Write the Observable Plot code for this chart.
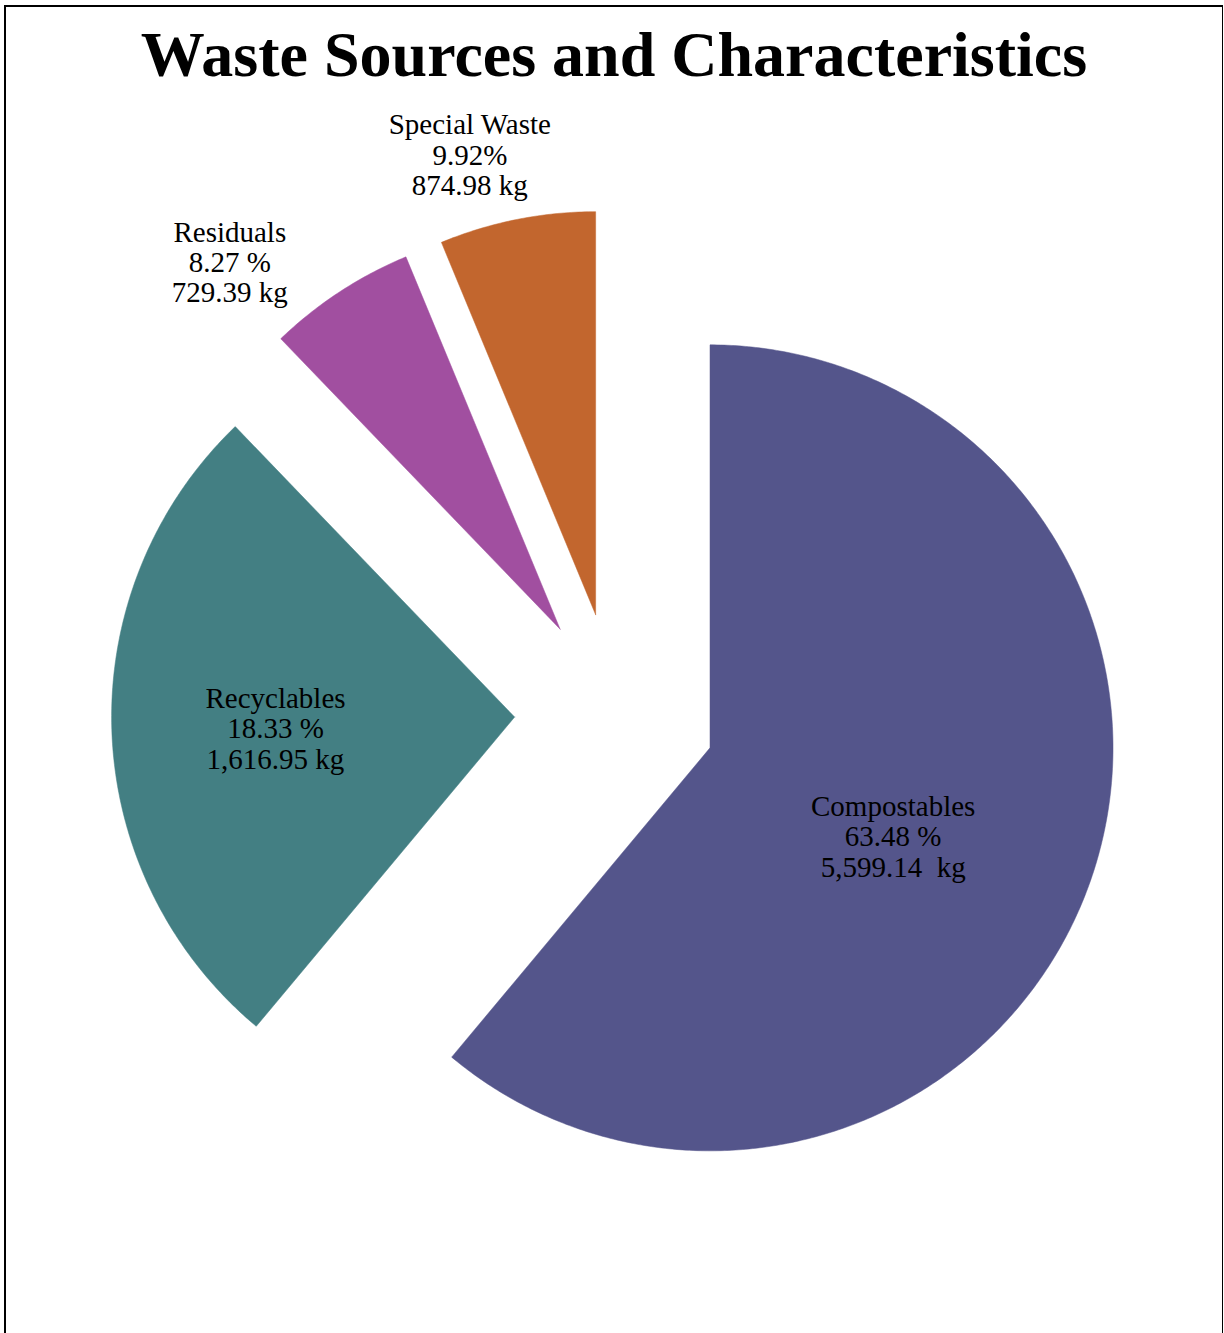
<!DOCTYPE html>
<html>
<head>
<meta charset="utf-8">
<script src="https://cdn.jsdelivr.net/npm/d3@7"></script>
<script src="https://cdn.jsdelivr.net/npm/@observablehq/plot@0.6"></script>
<style>
  html, body { margin: 0; padding: 0; background: #fff; overflow: hidden; }
  #frame {
    position: absolute; left: 4px; top: 5px; width: 1216px; height: 1400px;
    border-left: 2px solid #000; border-top: 2px solid #000; border-right: 1.5px solid #000;
    box-sizing: content-box;
  }
  #title {
    box-sizing: border-box; height: 93px; padding-top: 17px; margin: 0;
    font-family: "Liberation Serif", serif; font-weight: bold; font-size: 64px; line-height: 62px;
    text-align: center; color: #000;
  }
  #chart svg { display: block; }
  #chart svg text { white-space: pre; }
</style>
</head>
<body>
<div id="frame">
  <div id="title">Waste Sources and Characteristics</div>
  <div id="chart"></div>
</div>
<script>
// ---- data ----
const categories = ["Compostables", "Recyclables", "Residuals", "Special Waste"];
// share of the circle each slice occupies
const sliceShares = [61.07, 26.73, 5.94, 6.25];
const percentLabels = ["63.48 %", "18.33 %", "8.27 %", "9.92%"];
const massLabels = ["5,599.14  kg", "1,616.95 kg", "729.39 kg", "874.98 kg"];

// ---- styles / layout ----
const palette = ["#54558B", "#437F83", "#A14FA0", "#C2662E"];
const W = 1216, H = 1233;
const centerPx = [608.8, 613];     // pie centre inside the svg
const radiusPx = 403;               // pie radius
const pull = 0.25;                  // explode distance (fraction of radius)
const labelRadius = [0.505, 0.594, 1.225, 1.183];       // label distance from slice tip (fraction of radius)
const labelAngleShift = [5.9, -0.7, -8.8, -4.05];       // degrees from slice mid-angle

const table = categories.map((c, i) => ({category: c, share: sliceShares[i], pct: percentLabels[i], mass: massLabels[i], i}));
const arcs = d3.pie().sort(null).value(d => d.share).startAngle(0).endAngle(2 * Math.PI)(table);

// unit-radius polar -> cartesian (angle clockwise from 12 o'clock, y downward)
const pt = (a, r) => [r * Math.sin(a), -r * Math.cos(a)];

const wedgePts = [];
const labels = [];
for (const a of arcs) {
  const mid = (a.startAngle + a.endAngle) / 2;
  const [tx, ty] = pt(mid, pull);
  const cat = a.data.category;
  wedgePts.push({category: cat, x: tx, y: ty});
  const n = Math.max(4, Math.ceil((a.endAngle - a.startAngle) / (Math.PI / 360)));
  for (let k = 0; k <= n; k++) {
    const ang = a.startAngle + (a.endAngle - a.startAngle) * k / n;
    const [px, py] = pt(ang, 1);
    wedgePts.push({category: cat, x: tx + px, y: ty + py});
  }
  wedgePts.push({category: cat, x: tx, y: ty});
  const i = a.data.i;
  const la = mid + labelAngleShift[i] * Math.PI / 180;
  const [lx, ly] = pt(la, labelRadius[i]);
  labels.push({x: tx + lx, y: ty + ly, text: `${cat}\n${a.data.pct}\n${a.data.mass}`});
}

const chart = Plot.plot({
  width: W, height: H,
  margin: 0,
  style: {background: "transparent", overflow: "visible"},
  x: {domain: [-centerPx[0] / radiusPx, (W - centerPx[0]) / radiusPx], axis: null},
  y: {domain: [-centerPx[1] / radiusPx, (H - centerPx[1]) / radiusPx], reverse: true, axis: null},
  color: {domain: categories, range: palette},
  marks: [
    Plot.line(wedgePts, {x: "x", y: "y", z: "category", fill: "category", stroke: "category", strokeWidth: 0.5, curve: "linear"}),
    Plot.text(labels, {x: "x", y: "y", text: "text", fontFamily: "Liberation Serif", fontSize: 29, lineHeight: 1.05, fill: "#000", textAnchor: "middle", lineAnchor: "middle"})
  ]
});
document.getElementById("chart").appendChild(chart);
</script>
</body>
</html>
